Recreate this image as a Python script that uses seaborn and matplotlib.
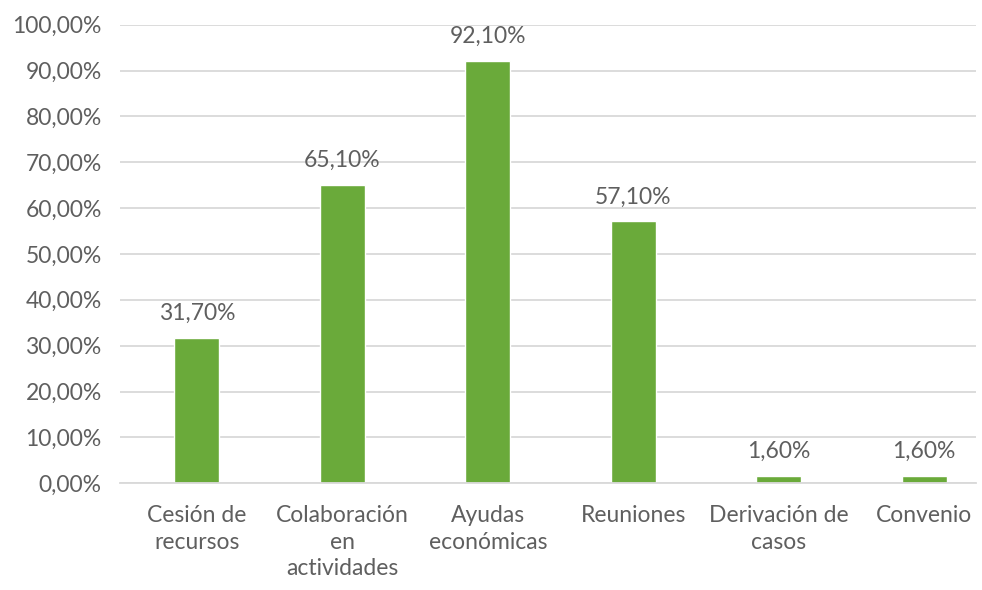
import matplotlib
matplotlib.use("Agg")
from matplotlib import pyplot as plt
from matplotlib.ticker import FuncFormatter, MultipleLocator
import pandas as pd
import seaborn as sns

# Chart data
categories = ["Cesión de\nrecursos", "Colaboración\nen\nactividades", "Ayudas\neconómicas",
              "Reuniones", "Derivación de\ncasos", "Convenio"]
values = [31.7, 65.1, 92.1, 57.1, 1.6, 1.6]

df = pd.DataFrame({"categoria": categories, "valor": values})

sns.set_theme(style="white")
plt.rcParams['font.family'] = ['Lato', 'DejaVu Sans']
text_color = "#5F5F5F"
bar_color = "#6AAA3A"

fig = plt.figure(figsize=(9.82, 5.90), dpi=100)
ax = fig.add_axes([0.122, 0.181, 0.872, 0.777])

sns.barplot(data=df, x="categoria", y="valor", color=bar_color, width=0.31,
            saturation=1, ax=ax)

ax.set_ylim(0, 100)
ax.yaxis.set_major_locator(MultipleLocator(10))
ax.yaxis.set_major_formatter(FuncFormatter(lambda v, p: f"{v:.2f}".replace(".", ",") + "%"))
ax.set_xlim(-0.53, 5.357)
ax.grid(axis="y", color="#D9D9D9", linewidth=1.3)
ax.set_axisbelow(True)
for s in ["top", "right", "left"]:
    ax.spines[s].set_visible(False)
ax.spines["bottom"].set_color("#D9D9D9")
ax.spines["bottom"].set_linewidth(1.3)
ax.set_xlabel("")
ax.set_ylabel("")
ax.tick_params(axis="both", length=0, labelsize=16.5, colors=text_color)
ax.tick_params(axis="y", pad=13)
ax.tick_params(axis="x", pad=16)
for lbl in ax.get_xticklabels():
    lbl.set_linespacing(1.3)

for i, v in enumerate(values):
    ax.text(i, v + 3.0, f"{v:.2f}".replace(".", ",") + "%", ha="center", va="bottom",
            fontsize=16.5, color=text_color)

fig.savefig("out.png", dpi=100)
